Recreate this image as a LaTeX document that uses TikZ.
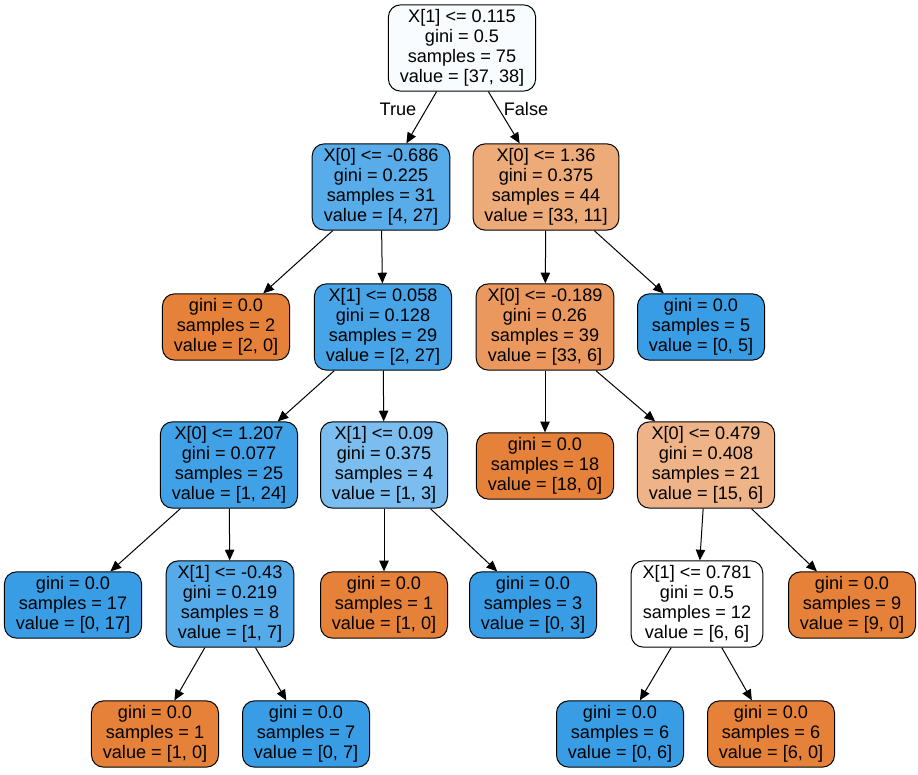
\documentclass[tikz,border=0pt]{standalone}
\usepackage{fontspec}
\setmainfont{Liberation Sans}
\usetikzlibrary{arrows.meta}
\definecolor{skorange}{HTML}{E58139}
\definecolor{skblue}{HTML}{399DE5}
\tikzset{
  tnode/.style={draw, line width=0.75pt, rounded corners=9pt, align=center, inner xsep=8.5pt, inner ysep=3.5pt,
    font=\fontsize{13.6}{15}\selectfont},
  edge/.style={line width=0.75pt, -{Triangle[length=8pt,width=7pt]}}
}
\begin{document}
\begin{tikzpicture}[x=0.75pt, y=-0.75pt]
\useasboundingbox (0,0) rectangle (918,775);
\node (n0) at (462,48) [tnode, fill=skblue!3!white]{X[1] <= 0.115\\gini = 0.5\\samples = 75\\value = [37, 38]};
\node (n1) at (381,187) [tnode, fill=skblue!85!white]{X[0] <= -0.686\\gini = 0.225\\samples = 31\\value = [4, 27]};
\node (n2) at (546,187) [tnode, fill=skorange!67!white]{X[0] <= 1.36\\gini = 0.375\\samples = 44\\value = [33, 11]};
\node (n3) at (226,327) [tnode, fill=skorange]{gini = 0.0\\samples = 2\\value = [2, 0]};
\node (n4) at (383,327) [tnode, fill=skblue!93!white]{X[1] <= 0.058\\gini = 0.128\\samples = 29\\value = [2, 27]};
\node (n5) at (545,327) [tnode, fill=skorange!82!white]{X[0] <= -0.189\\gini = 0.26\\samples = 39\\value = [33, 6]};
\node (n6) at (701,327) [tnode, fill=skblue]{gini = 0.0\\samples = 5\\value = [0, 5]};
\node (n7) at (229,465) [tnode, fill=skblue!96!white]{X[0] <= 1.207\\gini = 0.077\\samples = 25\\value = [1, 24]};
\node (n8) at (384,465) [tnode, fill=skblue!67!white]{X[1] <= 0.09\\gini = 0.375\\samples = 4\\value = [1, 3]};
\node (n9) at (545,466) [tnode, fill=skorange]{gini = 0.0\\samples = 18\\value = [18, 0]};
\node (n10) at (706,465) [tnode, fill=skorange!60!white]{X[0] <= 0.479\\gini = 0.408\\samples = 21\\value = [15, 6]};
\node (n11) at (73,605) [tnode, fill=skblue]{gini = 0.0\\samples = 17\\value = [0, 17]};
\node (n12) at (230,604) [tnode, fill=skblue!86!white]{X[1] <= -0.43\\gini = 0.219\\samples = 8\\value = [1, 7]};
\node (n13) at (384,605) [tnode, fill=skorange]{gini = 0.0\\samples = 1\\value = [1, 0]};
\node (n14) at (533,605) [tnode, fill=skblue]{gini = 0.0\\samples = 3\\value = [0, 3]};
\node (n15) at (697,604) [tnode, fill=white]{X[1] <= 0.781\\gini = 0.5\\samples = 12\\value = [6, 6]};
\node (n16) at (852,605) [tnode, fill=skorange]{gini = 0.0\\samples = 9\\value = [9, 0]};
\node (n17) at (155,734) [tnode, fill=skorange]{gini = 0.0\\samples = 1\\value = [1, 0]};
\node (n18) at (306,734) [tnode, fill=skblue]{gini = 0.0\\samples = 7\\value = [0, 7]};
\node (n19) at (620,734) [tnode, fill=skblue]{gini = 0.0\\samples = 6\\value = [0, 6]};
\node (n20) at (771,734) [tnode, fill=skorange]{gini = 0.0\\samples = 6\\value = [6, 0]};
\node (ltrue) at (398,109) [font=\fontsize{13.6}{15}\selectfont]{True};
\node (lfalse) at (526,109) [font=\fontsize{13.6}{15}\selectfont]{False};
\draw[edge] (n0)--(n1);
\draw[edge] (n0)--(n2);
\draw[edge] (n1)--(n3);
\draw[edge] (n1)--(n4);
\draw[edge] (n2)--(n5);
\draw[edge] (n2)--(n6);
\draw[edge] (n4)--(n7);
\draw[edge] (n4)--(n8);
\draw[edge] (n5)--(n9);
\draw[edge] (n5)--(n10);
\draw[edge] (n7)--(n11);
\draw[edge] (n7)--(n12);
\draw[edge] (n8)--(n13);
\draw[edge] (n8)--(n14);
\draw[edge] (n10)--(n15);
\draw[edge] (n10)--(n16);
\draw[edge] (n12)--(n17);
\draw[edge] (n12)--(n18);
\draw[edge] (n15)--(n19);
\draw[edge] (n15)--(n20);
\end{tikzpicture}
\end{document}
